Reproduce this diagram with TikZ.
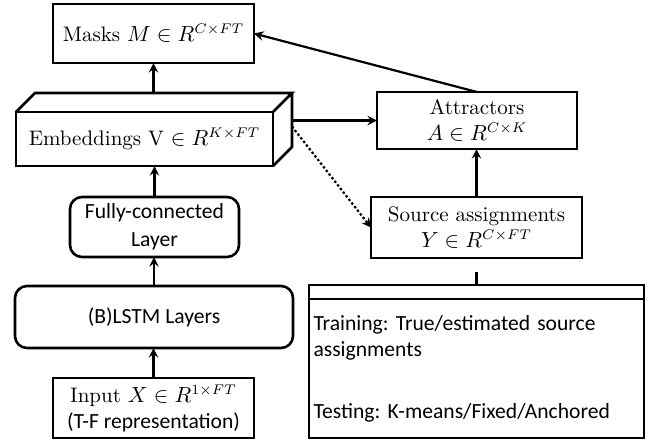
\documentclass[tikz,border=0pt]{standalone}
\usepackage{fontspec}
\setsansfont{Carlito}
\usetikzlibrary{positioning,calc,shapes.multipart}
\frenchspacing

\begin{document}
\begin{tikzpicture}[->,>=stealth,x=0.5pt,y=-0.5pt,line width=1.1pt,
  box/.style={draw,rectangle,line width=1.3pt,outer sep=0pt,inner sep=2pt,align=center,font=\fontsize{10.5}{13}\selectfont},
  layer/.style={box,rounded corners=6pt,font=\sffamily\fontsize{10.8}{14}\selectfont}]
  \useasboundingbox (0,0) rectangle (660,441);

  % left column
  \node[box,minimum width=100.5pt,minimum height=29.5pt] (masks) at (153.5,33.5) {Masks $M\in R^{C\times FT}$};
  \node[box,minimum width=128.5pt,minimum height=27pt] (emb) at (144.5,139) {Embeddings V $\in R^{K\times FT}$};
  \node[layer,minimum width=84.5pt,minimum height=30pt] (fc) at (154.5,227) {Fully-connected\\Layer};
  \node[layer,minimum width=139pt,minimum height=31pt] (lstm) at (154,317) {(B)LSTM Layers};
  \node[box,minimum width=100.5pt,minimum height=30pt] (input) at (153.5,408) {Input $X\in R^{1\times FT}$\\{\sffamily\fontsize{10.8}{13}\selectfont (T-F representation)}};

  % 3d faces of the embeddings box
  \coordinate (embne) at ($(emb.north east)+(19,-19)$);
  \draw[-,line width=1.3pt] (emb.north west) -- ++(19,-19) -- (embne) -- (emb.north east)
    (embne) -- ($(emb.south east)+(19,-19)$) -- (emb.south east);

  % right column
  \node[box,minimum width=100pt,minimum height=28.5pt] (attr) at (477,120.5) {Attractors\\$A\in R^{C\times K}$};
  \node[box,minimum width=105.5pt,minimum height=30.5pt] (src) at (476.5,227.5) {Source assignments\\$Y\in R^{C\times FT}$};
  \node[box,font=\sffamily\fontsize{10.8}{13}\selectfont,minimum width=167.5pt,minimum height=69.5pt,text width=163pt,align=left] (notes) at (476.5,368.5)
    {Training: True/estimated source\\assignments\\[18pt]Testing: K-means/Fixed/Anchored};
  \node[box,minimum width=167.5pt,minimum height=7pt,inner sep=0pt,above=0pt of notes] (head) {};
  \coordinate[above=6.5pt of head] (gap);

  % connectors
  \draw (input.north) -- (input.north |- lstm.south);
  \draw (lstm.north) -- (lstm.north |- fc.south);
  \draw (fc.north) -- (fc.north |- emb.south);
  \draw (masks.south |- embne) -- (masks.south);
  \draw (embne |- attr.west) -- (attr.west);
  \draw[dash pattern=on 1.2pt off 1.1pt] ($(embne |- attr.west)+(0,6)$) -- (src.west);
  \draw (src.north) -- (src.north |- attr.south);
  \draw (attr.north) -- (masks.east);
  \draw[-] (gap) -- (head.north);
\end{tikzpicture}
\end{document}
